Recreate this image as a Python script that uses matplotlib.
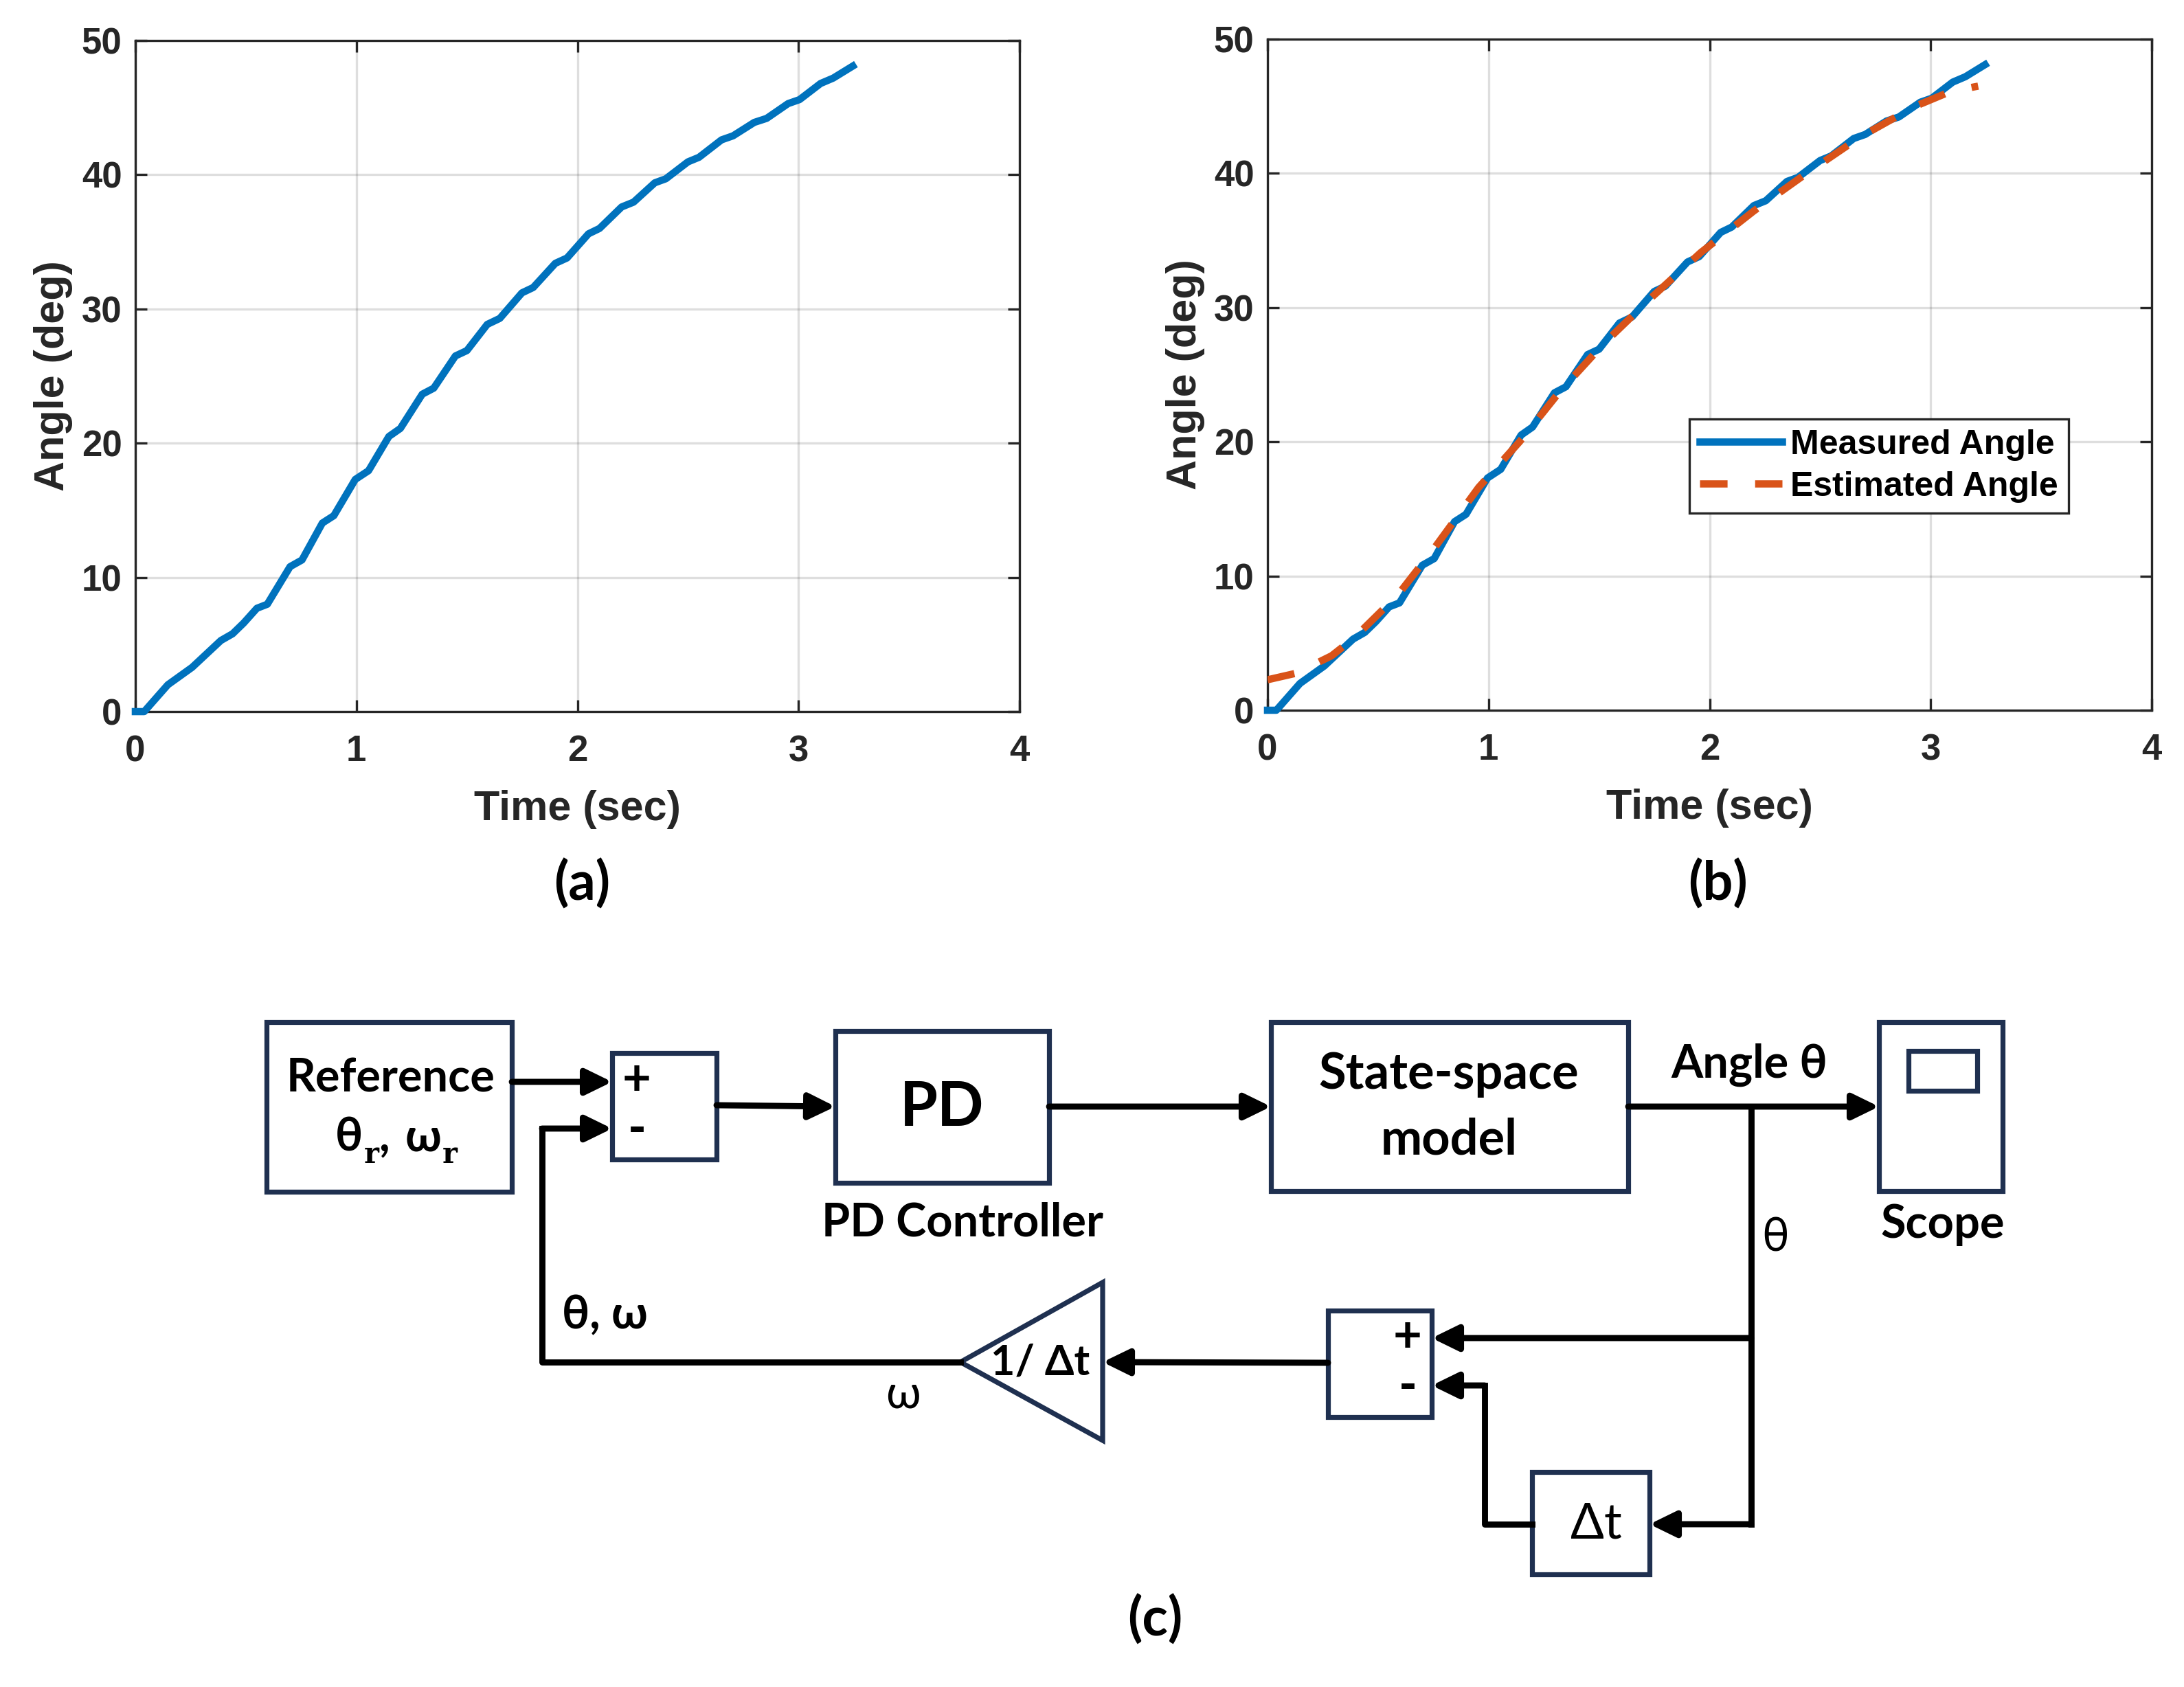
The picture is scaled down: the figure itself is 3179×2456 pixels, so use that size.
import numpy as np
import matplotlib
matplotlib.use('Agg')
import matplotlib.pyplot as plt
from matplotlib.patches import Rectangle, Polygon

t_meas = [0, 0.04, 0.147, 0.257, 0.387, 0.44, 0.49, 0.55, 0.597, 0.70, 0.754, 0.846, 0.898,
          0.995, 1.055, 1.147, 1.199, 1.298, 1.35, 1.448, 1.50, 1.592, 1.649, 1.749, 1.80,
          1.90, 1.953, 2.05, 2.10, 2.20, 2.254, 2.35, 2.40, 2.50, 2.55, 2.652, 2.704, 2.80,
          2.856, 2.953, 3.005, 3.10, 3.157, 3.246]
ang_meas = [0, 0, 2.0, 3.3, 5.3, 5.8, 6.6, 7.7, 8.0, 10.8, 11.3, 14.05, 14.6, 17.3, 17.95,
            20.5, 21.1, 23.65, 24.1, 26.5, 26.9, 28.85, 29.3, 31.2, 31.6, 33.4, 33.8, 35.6,
            36.0, 37.6, 37.96, 39.4, 39.7, 40.96, 41.3, 42.6, 42.9, 43.9, 44.2, 45.3, 45.6,
            46.8, 47.2, 48.1]

# estimated angle (plot b)
t_est = [0, 0.13, 0.29, 0.39, 0.59, 0.76, 0.955, 1.14, 1.32, 1.52, 1.74, 1.96, 2.20,
         2.43, 2.68, 2.93, 3.09, 3.215]
ang_est = [2.27, 2.76, 4.06, 5.36, 8.6, 12.2, 16.6, 20.0, 23.7, 27.3, 30.8, 34.1, 37.2,
           39.9, 42.7, 45.0, 46.1, 46.5]

xticks = [0, 1, 2, 3, 4]
yticks = [0, 10, 20, 30, 40, 50]

blue = '#0072BD'
orange = '#D95319'
navy = '#1F3050'
W, H = 3179, 2456

plot_font = 'Liberation Sans'
diag_font = ['Lato', 'Open Sans', 'DejaVu Sans']

fig = plt.figure(figsize=(W / 200, H / 200), dpi=200)

# full-figure axes in pixel coordinates for the block diagram
dg = fig.add_axes([0, 0, 1, 1])
dg.set_xlim(0, W)
dg.set_ylim(H, 0)
dg.axis('off')
dg.patch.set_alpha(0)


def style_axes(ax):
    ax.set_xlim(0, 4)
    ax.set_ylim(0, 50)
    ax.set_xticks(xticks)
    ax.set_yticks(yticks)
    ax.grid(True, color='#262626', alpha=0.15, lw=1.2)
    ax.tick_params(direction='in', length=6, width=1.2, top=True, right=True,
                   colors='#262626', labelsize=19)
    ax.tick_params(axis='x', pad=12)
    ax.tick_params(axis='y', pad=7)
    for lab in ax.get_xticklabels() + ax.get_yticklabels():
        lab.set_fontfamily(plot_font)
        lab.set_fontweight('bold')
    for sp in ax.spines.values():
        sp.set_color('#262626')
        sp.set_linewidth(1.2)
    ax.set_xlabel('Time (sec)', fontsize=22, fontweight='bold', family=plot_font,
                  color='#262626', labelpad=11)
    ax.set_ylabel('Angle (deg)', fontsize=22, fontweight='bold', family=plot_font,
                  color='#262626', labelpad=4.5)


ax1 = fig.add_axes([197 / W, 1 - 1036 / H, 1287 / W, 977 / H])
ax1.plot(t_meas, ang_meas, color=blue, lw=3.8, clip_on=False, zorder=3)
style_axes(ax1)

ax2 = fig.add_axes([1845 / W, 1 - 1034 / H, 1287 / W, 977 / H])
ax2.plot(t_meas, ang_meas, color=blue, lw=3.8, clip_on=False, zorder=3,
         label='Measured Angle')
ax2.plot(t_est, ang_est, color=orange, lw=3.8, ls=(0, (3.8, 3.8)), zorder=4,
         label='Estimated Angle')
style_axes(ax2)
leg = ax2.legend(loc='center right', bbox_to_anchor=(0.906, 0.364), fancybox=False,
                 edgecolor='#262626', framealpha=1, handlelength=2.4, handletextpad=0.25,
                 borderpad=0.3, labelspacing=0.3, borderaxespad=0,
                 prop={'family': plot_font, 'weight': 'bold', 'size': 18})
leg.get_frame().set_linewidth(1.2)
for t in leg.get_texts():
    t.set_color('black')

# panel labels
for x, y, s in [(847, 1287, '(a)'), (2500, 1287, '(b)'), (1681, 2358, '(c)')]:
    dg.text(x, y, s, ha='center', va='center', fontsize=28, fontweight='bold', family=diag_font)

# ---- block diagram (c) ----
lw_box = 2.6
lw_line = 3.2


def box(x0, y0, x1, y1):
    dg.add_patch(Rectangle((x0, y0), x1 - x0, y1 - y0, fill=False, ec=navy, lw=lw_box))


def arrow(x0, y0, x1, y1):
    dg.annotate('', xy=(x1, y1), xytext=(x0, y0),
                arrowprops=dict(arrowstyle='-|>,head_length=0.45,head_width=0.22',
                                color='k', lw=lw_line, shrinkA=0, shrinkB=0,
                                mutation_scale=26))


def line(xs, ys):
    dg.plot(xs, ys, color='k', lw=lw_line, solid_capstyle='projecting')


def label(x, y, s, size=24, bold=True):
    return dg.text(x, y, s, ha='center', va='center', fontsize=size,
                   fontweight='bold' if bold else 'normal', family=diag_font)


# blocks
box(388, 1488, 745, 1735)      # reference
box(891, 1533, 1043, 1688)     # summing junction 1
box(1216, 1501, 1527, 1722)    # PD
box(1850, 1488, 2370, 1734)    # state-space
box(2735, 1488, 2915, 1734)    # scope
box(2778, 1530, 2878, 1588)    # scope screen
box(1933, 1908, 2084, 2063)    # summing junction 2
box(2230, 2143, 2401, 2292)    # delay
dg.add_patch(Polygon([(1398, 1983), (1605, 1867), (1605, 2097)], closed=True,
                     fill=False, ec=navy, lw=lw_box))

# signals
arrow(745, 1575, 891, 1575)
line([789, 789, 1398], [1643, 1983, 1983])
arrow(789, 1643, 891, 1643)
arrow(1043, 1609, 1216, 1611)
arrow(1527, 1611, 1850, 1611)
arrow(2370, 1611, 2735, 1611)
line([2549, 2549], [1611, 2219])
arrow(2549, 1948, 2084, 1948)
arrow(2549, 2219, 2401, 2219)
line([2230, 2161, 2161], [2219, 2219, 2017])
arrow(2161, 2017, 2084, 2017)
arrow(1933, 1984, 1605, 1983)

# texts
label(569, 1570, 'Reference', 24)
t1 = dg.text(488, 1675, 'θ', ha='left', va='baseline', fontsize=24, fontweight='bold',
             family=diag_font)
t2 = dg.annotate('r', xy=(1, 0), xycoords=t1, xytext=(0.5, -5.5), textcoords='offset points',
                 ha='left', va='bottom', fontsize=15, fontweight='bold',
                 family=['DejaVu Serif'])
t3 = dg.annotate(',', xy=(1, 0), xycoords=t2, xytext=(0, 5.5), textcoords='offset points',
                 ha='left', va='bottom', fontsize=24, fontweight='bold', family=diag_font)
t4 = dg.annotate('ω', xy=(1, 0), xycoords=t3, xytext=(8, 0), textcoords='offset points',
                 ha='left', va='bottom', fontsize=24, fontweight='bold', family=diag_font)
dg.annotate('r', xy=(1, 0), xycoords=t4, xytext=(0.5, -5.5), textcoords='offset points',
            ha='left', va='bottom', fontsize=15, fontweight='bold', family=['DejaVu Serif'])

label(927, 1574, '+', 26)
label(927, 1646, '-', 26)
label(1371, 1613, 'PD', 32)
label(1401, 1780, 'PD Controller', 24)
label(2109, 1565, 'State-space', 26)
label(2109, 1660, 'model', 26)
label(2546, 1550, 'Angle θ', 24)
label(2828, 1783, 'Scope', 24)
label(2584, 1803, 'θ', 24, bold=False)
label(2049, 1947, '+', 26)
label(2049, 2019, '-', 26)
label(2323, 2219, 'Δt', 26, bold=False)
label(1514, 1983, '1/ Δt', 22)
label(880, 1915, 'θ, ω', 24)
label(1315, 2030, 'ω', 24, bold=False)

fig.savefig('out.png', dpi=200)
